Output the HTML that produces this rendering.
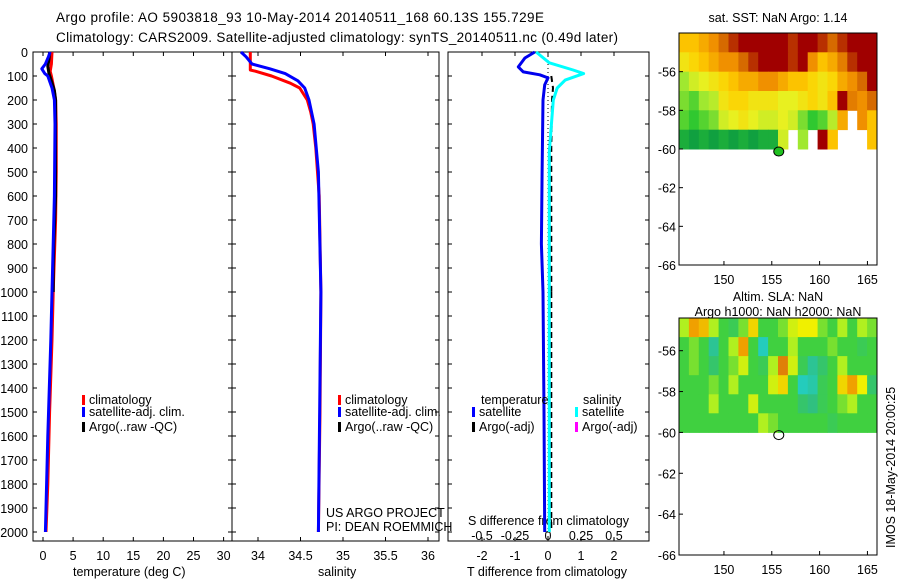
<!DOCTYPE html>
<html><head><meta charset="utf-8"><style>
body{margin:0;background:#fff}
svg{display:block;font-family:"Liberation Sans",sans-serif}
text{font-size:12.5px;fill:#000}
</style></head><body>
<svg id="s" width="900" height="580" viewBox="0 0 900 580" xmlns="http://www.w3.org/2000/svg">
<text x="56" y="22" style="font-size:13.5px" textLength="488">Argo profile: AO 5903818_93 10-May-2014 20140511_168 60.13S 155.729E</text>
<text x="56" y="42" style="font-size:13.5px" textLength="562">Climatology: CARS2009. Satellite-adjusted climatology: synTS_20140511.nc (0.49d later)</text>
<g id="g"></g>
</svg>
<script>
// ---------- data ----------
const depthTicks=[0,100,200,300,400,500,600,700,800,900,1000,1100,1200,1300,1400,1500,1600,1700,1800,1900,2000];
const tTicks=[0,5,10,15,20,25,30];
const sTicks=[34,34.5,35,35.5,36];
const dtTicks=[-2,-1,0,1,2];
const dsTicks=[-0.5,-0.25,0,0.25,0.5];
const climTdepth=[0,50,80,100,150,200,300,500,700,1000,1200,1500,1800,2000];
const climT=[1.5,1.4,1.2,1.4,1.8,2.1,2.2,2.2,2.1,1.7,1.5,1.1,0.8,0.5];
const satTdepth=[0,20,50,70,90,100,150,200,300,600,900,1200,1600,2000];
const satT=[1.2,0.9,0.4,-0.2,0.3,0.8,1.5,1.9,2.0,1.9,1.6,1.3,0.8,0.4];
const argoTdepth=[0,30,60,90,120,160,200,400,600,800,900,1000];
const argoT=[1.1,1.0,0.8,1.0,1.4,1.9,2.1,2.1,2.1,1.8,1.7,1.7];
const climSdepth=[0,75,80,100,130,150,200,250,300,400,600,1000,1500,2000];
const climS=[33.91,33.91,33.97,34.16,34.38,34.49,34.58,34.62,34.65,34.68,34.72,34.74,34.73,34.71];
const satSdepth=[0,20,50,70,90,120,150,200,300,500,1000,2000];
const satS=[33.8,33.86,33.93,34.14,34.32,34.47,34.55,34.6,34.66,34.71,34.74,34.71];
const dTdepth=[0,25,62,83,95,108,137,200,500,800,1000,1500,2000];
const dT=[-0.4,-0.7,-0.9,-0.75,-0.25,0,-0.1,-0.15,-0.18,-0.2,-0.15,-0.12,-0.1];
const dSdepth=[0,45,75,90,117,150,200,415,1000,2000];
const dS=[-0.09,0.01,0.19,0.27,0.13,0.07,0.04,0.01,0.01,0.01];
const dArgodepth=[100,150,200,400,800,1000];
const dArgo=[0.1,0.15,0.12,0.1,0.1,0.1];
const mapLonTicks=[150,155,160,165];
const map1LatTicks=[-56,-58,-60,-62,-64,-66];
const map2LatTicks=[-56,-58,-60,-62,-64,-66];
const sstGrid=[
[3.0,3.0,3.1,3.2,3.4,3.5,3.6,3.6,3.6,3.6,3.6,3.5,3.6,3.6,3.5,3.4,3.5,3.6,3.6,3.6],
[2.8,2.9,3.0,3.1,3.2,3.2,3.4,3.5,3.6,3.6,3.6,3.5,3.6,3.2,3.0,3.1,3.3,3.5,3.6,3.6],
[2.4,2.6,2.7,2.8,2.9,3.0,3.1,3.1,3.2,3.2,3.1,3.0,3.0,2.9,2.8,2.9,3.1,3.2,3.4,3.6],
[2.3,2.2,2.4,2.5,2.8,2.9,2.9,2.8,2.8,2.8,2.7,2.7,2.8,2.9,2.8,3.0,3.6,3.3,3.2,3.4],
[2.2,2.1,2.2,2.3,2.6,2.7,2.8,2.7,2.6,2.6,2.7,2.6,2.3,2.1,2.2,2.5,3.1,null,3.2,3.0],
[1.9,1.8,1.9,1.8,1.9,1.8,1.9,1.8,1.9,1.9,2.6,null,2.4,null,3.6,3.0,null,null,null,3.0]];
const slaGrid=[
[0.3,0.8,0.7,0.3,0,-0.2,0.2,0.6,0.1,0,0.2,0.4,0.5,0.5,0.2,0,0.3,0.1,0.3,0.2],
[0.1,0.2,-0.1,-0.5,0,0.3,0.8,0.1,-0.7,0,0.1,0.3,0,-0.1,0,0.2,0,0,-0.2,0.1],
[0,0.2,0,-0.3,0,0.2,0.4,0,-0.2,0.3,0.9,0.4,-0.2,-0.5,-0.3,0,0.3,0.1,-0.1,0],
[0,0.1,0,0.2,0.1,0.3,0.1,0,0,0.4,0.6,0.1,-0.7,-0.6,-0.2,0.1,0.6,0.8,0.5,-0.3],
[-0.1,0,0.1,0.3,0,0,0.1,0.4,0.1,0,0.1,0,-0.3,-0.4,-0.2,0,0.2,0.3,0.1,0],
[0,0,0.1,0,-0.1,0,0,0.1,0.3,0.2,0,0,-0.1,0,0,-0.2,0,0.1,0,0]];
const argoLon=155.73, argoLat=-60.13;

// ---------- scales ----------
const NS="http://www.w3.org/2000/svg", G=document.getElementById('g');
function el(t,a,txt){const e=document.createElementNS(NS,t);for(const k in a)e.setAttribute(k,a[k]);if(txt!==undefined)e.textContent=txt;G.appendChild(e);return e;}
const Y=d=>52+0.24*d;
const XT=t=>43+6.02*t;
const XS=s=>258+85*(s-34);
const XDT=v=>548+33*v;
const XDS=v=>548+132*v;
const yTop=52,yBot=541;
function lineOf(ds,vs,xf,color,w,name,dash){
  const pts=ds.map((d,i)=>xf(vs[i]).toFixed(1)+','+Y(d).toFixed(1)).join(' ');
  const p=el('polyline',{points:pts,fill:'none',stroke:color,'stroke-width':w,'stroke-linejoin':'round'});
  if(dash)p.setAttribute('stroke-dasharray',dash);
  
  
}
function box(x1,x2,y1,y2,name){
  const r=el('rect',{x:x1,y:y1,width:x2-x1,height:y2-y1,fill:'none',stroke:'#000','stroke-width':1});
  
  
}
box(33,232,yTop,yBot,'temperature-panel');
box(232,439,yTop,yBot,'salinity-panel');
box(448,649,yTop,yBot,'difference-panel');
depthTicks.forEach(d=>{
  const t=el('text',{x:28,y:Y(d)+5,'text-anchor':'end'},String(d));
  
  
  [[33,37],[228,236],[435,439],[448,452],[645,649]].forEach(([a,b])=>el('line',{x1:a,x2:b,y1:Y(d),y2:Y(d),stroke:'#000'}));
});
function xt(vals,xf,lab,y,name){vals.forEach(v=>{
  el('line',{x1:xf(v),x2:xf(v),y1:yTop,y2:yTop+4,stroke:'#000'});
  el('line',{x1:xf(v),x2:xf(v),y1:yBot,y2:yBot-4,stroke:'#000'});
  const t=el('text',{x:xf(v),y:y,'text-anchor':'middle'},lab(v));
  
  
});}
xt(tTicks,XT,v=>String(v),560,'temperature-tick-label');
xt(sTicks,XS,v=>String(v),560,'salinity-tick-label');
xt(dtTicks,XDT,v=>String(v),560,'t-diff-tick-label');
dsTicks.forEach(v=>{const t=el('text',{x:XDS(v),y:540,'text-anchor':'middle'},String(v));
  
  });
[[73,576,'temperature (deg C)','x-axis-title-temperature'],[318,576,'salinity','x-axis-title-salinity'],[467,576,'T difference from climatology','x-axis-title-t-diff'],[468,525,'S difference from climatology','axis-title-s-diff'],[326,517,'US ARGO PROJECT','project-label'],[326,531,'PI: DEAN ROEMMICH','pi-label']].forEach(([x,y,s,n])=>{
  const t=el('text',{x:x,y:y},s);});
el('line',{x1:548,x2:548,y1:yTop,y2:yBot,stroke:'#000','stroke-dasharray':'1,3'});
lineOf(climTdepth,climT,XT,'#f00',3,'temp-climatology-line');
lineOf(argoTdepth,argoT,XT,'#000',3,'temp-argo-line');
lineOf(satTdepth,satT,XT,'#0000ff',3,'temp-satellite-line');
lineOf(climSdepth,climS,XS,'#f00',3,'sal-climatology-line');
lineOf(satSdepth,satS,XS,'#0000ff',3,'sal-satellite-line');
lineOf(dArgodepth,dArgo,XDT,'#000',2,'t-diff-argo-line','6,4');
el('line',{x1:XDT(0.1),x2:XDT(0.1),y1:Y(1000),y2:Y(2000),stroke:'#000','stroke-width':2,'stroke-dasharray':'6,4'});
lineOf(dSdepth,dS,XDS,'#00ffff',3,'s-diff-satellite-line');
lineOf(dTdepth,dT,XDT,'#0000ee',3,'t-diff-satellite-line');
function leg(x,y,c,s,n){el('rect',{x:x,y:y-9,width:3,height:10,fill:c});
  const t=el('text',{x:x+7,y:y},s);}
leg(82,404,'#f00','climatology','legend-climatology');
leg(82,416,'#0000ff','satellite-adj. clim.','legend-satellite-adj');
leg(82,431,'#000','Argo(..raw -QC)','legend-argo');
leg(338,404,'#f00','climatology','legend2-climatology');
leg(338,416,'#0000ff','satellite-adj. clim.','legend2-satellite-adj');
leg(338,431,'#000','Argo(..raw -QC)','legend2-argo');
[[481,404,'temperature'],[583,404,'salinity']].forEach(([x,y,s])=>{const t=el('text',{x:x,y:y},s);});
leg(472,416,'#0000ff','satellite','legend-t-satellite');
leg(472,431,'#000','Argo(-adj)','legend-t-argo');
leg(575,416,'#00ffff','satellite','legend-s-satellite');
leg(575,431,'#ff00ff','Argo(-adj)','legend-s-argo');

function lerp(a,b,t){return a.map((v,i)=>Math.round(v+(b[i]-v)*t));}
function cmap(stops,v){
  if(v<=stops[0][0])return stops[0][1];
  for(let i=1;i<stops.length;i++)if(v<=stops[i][0]){const t=(v-stops[i-1][0])/(stops[i][0]-stops[i-1][0]);return lerp(stops[i-1][1],stops[i][1],t);}
  return stops[stops.length-1][1];}
const sstStops=[[1.8,[16,160,64]],[2.1,[48,200,48]],[2.4,[160,232,48]],[2.7,[232,240,32]],[2.95,[255,208,0]],[3.2,[240,144,0]],[3.45,[208,96,0]],[3.55,[160,0,0]]];
const slaStops=[[-0.8,[32,208,208]],[-0.4,[48,192,128]],[-0.1,[64,208,64]],[0.1,[64,208,64]],[0.3,[176,240,32]],[0.5,[240,240,0]],[0.8,[240,160,0]],[1.0,[208,96,16]]];
function drawMap(o){
  const X=lon=>o.x0+(lon-o.lon0)*(o.x1-o.x0)/(o.lon1-o.lon0);
  const Ym=lat=>o.y0+(o.lat0-lat)*(o.y1-o.y0)/(o.lat0-o.lat1);
  const nr=o.grid.length,nc=o.grid[0].length;
  const dlon=(o.lon1-o.lon0)/nc, dlat=(o.lat0-o.dataLat)/nr;
  o.grid.forEach((row,r)=>row.forEach((v,c)=>{
    if(v===null)return;
    const x=X(o.lon0+c*dlon),y=Ym(o.lat0-r*dlat);
    const rc=el('rect',{x:x.toFixed(1),y:y.toFixed(1),width:(X(o.lon0+(c+1)*dlon)-x+0.5).toFixed(1),height:(Ym(o.lat0-(r+1)*dlat)-y+0.5).toFixed(1),fill:'rgb('+cmap(o.stops,v).join(',')+')'});
    
    
  }));
  box(o.x0,o.x1,o.y0,o.y1,o.name+'-frame');
  o.latTicks.forEach(l=>{el('line',{x1:o.x0,x2:o.x0+4,y1:Ym(l),y2:Ym(l),stroke:'#000'});
    const t=el('text',{x:o.x0-3,y:Ym(l)+5,'text-anchor':'end'},String(l));
    });
  mapLonTicks.forEach(l=>{el('line',{x1:X(l),x2:X(l),y1:o.y1,y2:o.y1-4,stroke:'#000'});
    const t=el('text',{x:X(l),y:o.y1+19,'text-anchor':'middle'},String(l));
    });
  const c=el('ellipse',{cx:X(argoLon),cy:Ym(argoLat),rx:5,ry:4.5,fill:o.dot,stroke:'#000'});
  
  
}
drawMap({name:'sst-map',x0:679,x1:877,y0:33,y1:265,lon0:145.3,lon1:166,lat0:-54,lat1:-66,dataLat:-60,grid:sstGrid,stops:sstStops,latTicks:map1LatTicks,dot:'#20c020'});
drawMap({name:'sla-map',x0:679,x1:877,y0:318,y1:555,lon0:145.3,lon1:166,lat0:-54.4,lat1:-66,dataLat:-60,grid:slaGrid,stops:slaStops,latTicks:map2LatTicks,dot:'none'});
[[778,22,'sat. SST: NaN Argo: 1.14','sst-map-title'],[778,301,'Altim. SLA: NaN','sla-map-title'],[778,316,'Argo h1000: NaN h2000: NaN','sla-map-subtitle']].forEach(([x,y,s,n])=>{
  const t=el('text',{x:x,y:y,'text-anchor':'middle'},s);});
const ts=el('text',{x:0,y:0,transform:'translate(895,548) rotate(-90)'},'IMOS 18-May-2014 20:00:25');


</script>
</body></html>
